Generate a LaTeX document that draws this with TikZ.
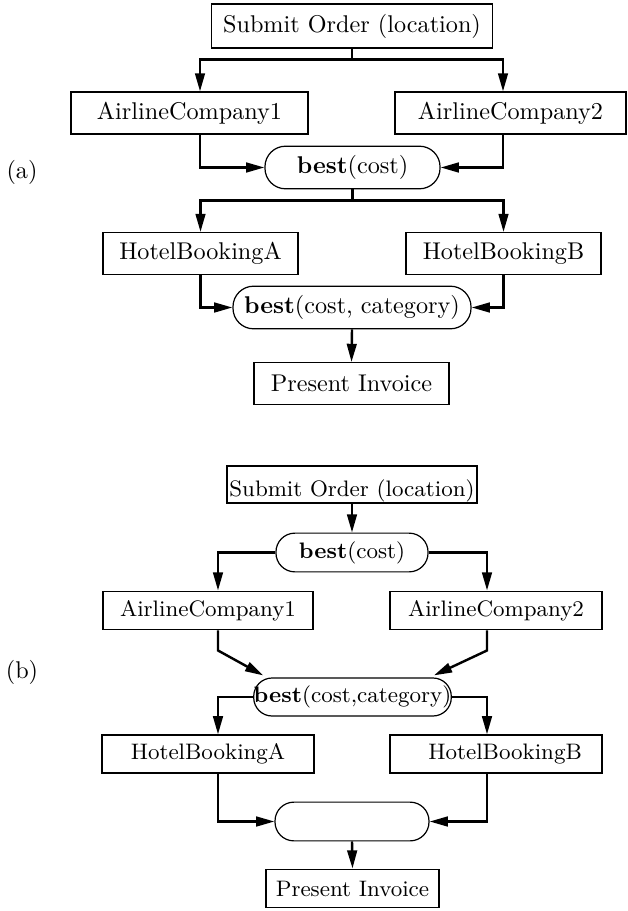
\documentclass[tikz,border=0pt]{standalone}
\usepackage{tikz}
\usetikzlibrary{calc,arrows.meta}

\begin{document}
\begin{tikzpicture}[x=0.413pt, y=-0.413pt,
    TSK/.style={rectangle, draw=black, line width=0.5pt, inner sep=0pt, minimum height=17.3pt},
    SEL/.style={rectangle, draw=black, line width=0.5pt, rounded corners=8.5pt, inner sep=0pt, minimum height=17.6pt},
    SML/.style={font=\fontsize{9.25pt}{11pt}\selectfont, minimum height=16pt},
    LNK/.style={line width=1pt, -{Triangle[length=7.5pt, width=4pt]}}
    ]
    \useasboundingbox (0,0) rectangle (627,911);
    % (a)
    \node (La) at (22,172) {(a)};
    \node[TSK, minimum width=116pt, minimum height=18.2pt] (SA) at (352,26) {Submit Order (location)};
    \node[TSK, minimum width=97.9pt] (A1) at (189.5,113) {AirlineCompany1};
    \node[TSK, minimum width=95.4pt] (A2) at (510.5,113) {AirlineCompany2};
    \node[SEL, minimum width=72.3pt] (B1) at (352.5,167.5) {\textbf{best}(cost)};
    \node[TSK, minimum width=80.5pt] (HA) at (200.5,253.5) {HotelBookingA};
    \node[TSK, minimum width=80.5pt] (HB) at (503.5,253.5) {HotelBookingB};
    \node[SEL, minimum width=98.3pt] (B2) at (352,307.5) {\textbf{best}(cost, category)};
    \node[TSK, minimum width=80.5pt] (PA) at (351.5,383.5) {Present Invoice};
    \draw[LNK] (SA.south) -- ++(0,11) -| ($(A1.north)+(10.5,0)$);
    \draw[LNK] (SA.south) -- ++(0,11) -| ($(A2.north)+(-7.5,0)$);
    \draw[LNK] ($(A1.south)+(10.5,0)$) |- (B1.west);
    \draw[LNK] ($(A2.south)+(-7.5,0)$) |- (B1.east);
    \draw[LNK] (B1.south) -- ++(0,11) -| (HA.north);
    \draw[LNK] (B1.south) -- ++(0,11) -| (HB.north);
    \draw[LNK] (HA.south) |- (B2.west);
    \draw[LNK] (HB.south) |- (B2.east);
    \draw[LNK] (B2.south) -- (PA.north);
    % (b)
    \node (Lb) at (22,672) {(b)};
    \node[TSK, SML, minimum width=103.3pt, minimum height=15.3pt, inner ysep=0.5pt,
        text height=12.3pt, text depth=2pt] (SB) at (352,484.5) {Submit Order (location)};
    \node[SEL, SML, rounded corners=7.8pt, minimum width=62.8pt] (C1) at (352,552.5) {\textbf{best}(cost)};
    \node[TSK, SML, minimum width=86.7pt] (AB1) at (208,610.5) {AirlineCompany1};
    \node[TSK, SML, minimum width=87.6pt] (AB2) at (496,610.5) {AirlineCompany2};
    \node[SEL, SML, rounded corners=7.6pt, minimum width=79.3pt, minimum height=15.7pt] (C2) at (352.5,697) {\textbf{best}(cost,category)};
    \node[TSK, SML, minimum width=87.6pt, minimum height=15.7pt] (HB1) at (208,754) {HotelBookingA\hspace{8pt}};
    \node[TSK, SML, minimum width=87.6pt, minimum height=15.7pt] (HB2) at (496,754) {\hspace{7.5pt}HotelBookingB};
    \node[SEL, SML, rounded corners=7.8pt, minimum width=63.6pt] (C3) at (352,821.5) {};
    \node[TSK, SML, minimum width=71.5pt] (PB) at (352.5,888.5) {Present Invoice};
    \draw[LNK] (SB.south) -- (C1.north);
    \draw[LNK] (C1.west) -| ($(AB1.north)+(10,0)$);
    \draw[LNK] (C1.east) -| ($(AB2.north)+(-9,0)$);
    \draw[LNK] ($(AB1.south)+(10,0)$) -- ++(0,20) -- ($(C2.north west)+(10,-2)$);
    \draw[LNK] ($(AB2.south)+(-9,0)$) -- ++(0,20) -- ($(C2.north east)+(-18,-2)$);
    \draw[LNK] (C2.west) -| ($(HB1.north)+(10,0)$);
    \draw[LNK] (C2.east) -| ($(HB2.north)+(-9,0)$);
    \draw[LNK] ($(HB1.south)+(10,0)$) |- (C3.west);
    \draw[LNK] ($(HB2.south)+(-9,0)$) |- (C3.east);
    \draw[LNK] (C3.south) -- (PB.north);
\end{tikzpicture}
\end{document}
